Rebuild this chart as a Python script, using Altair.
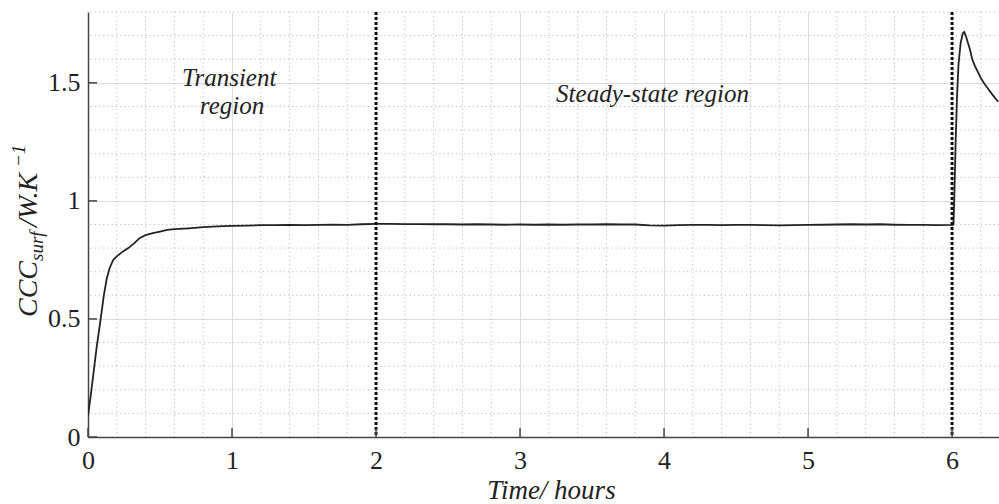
import altair as alt
import pandas as pd

# ---- data ----
time_h = [0.0, 0.02, 0.04, 0.06, 0.088, 0.11, 0.13, 0.15, 0.175, 0.2, 0.24, 0.28, 0.32, 0.36,
          0.4, 0.45, 0.5, 0.55, 0.6, 0.7, 0.8, 0.9,
          1.0, 1.1, 1.2, 1.3, 1.4, 1.5, 1.6, 1.7, 1.8, 1.9,
          2.0, 2.1, 2.2, 2.3, 2.4, 2.5, 2.6, 2.7, 2.8, 2.9,
          3.0, 3.1, 3.2, 3.3, 3.4, 3.5, 3.6, 3.7, 3.8, 3.9,
          4.0, 4.1, 4.2, 4.3, 4.4, 4.5, 4.6, 4.7, 4.8, 4.9,
          5.0, 5.1, 5.2, 5.3, 5.4, 5.5, 5.6, 5.7, 5.8, 5.9,
          6.0, 6.01, 6.015, 6.025, 6.035, 6.045, 6.06, 6.075, 6.085, 6.095, 6.11, 6.125,
          6.14, 6.16, 6.18, 6.2, 6.22, 6.25, 6.28, 6.32]
ccc = [0.09, 0.18, 0.28, 0.38, 0.50, 0.60, 0.67, 0.715, 0.75, 0.765, 0.785, 0.80, 0.82, 0.843,
       0.855, 0.863, 0.870, 0.877, 0.880, 0.884, 0.889, 0.892,
       0.894, 0.895, 0.897, 0.897, 0.898, 0.897, 0.898, 0.899, 0.898, 0.901,
       0.903, 0.903, 0.902, 0.902, 0.901, 0.901, 0.900, 0.901, 0.900, 0.899,
       0.900, 0.899, 0.900, 0.899, 0.900, 0.900, 0.901, 0.900, 0.900, 0.896,
       0.895, 0.897, 0.898, 0.898, 0.897, 0.898, 0.898, 0.897, 0.896, 0.897,
       0.898, 0.899, 0.900, 0.901, 0.900, 0.901, 0.899, 0.898, 0.898, 0.897,
       0.898, 0.900, 1.00, 1.25, 1.45, 1.58, 1.67, 1.71, 1.715, 1.70, 1.67, 1.64,
       1.60, 1.57, 1.545, 1.52, 1.50, 1.475, 1.45, 1.42]

x_major = [0, 1, 2, 3, 4, 5, 6]
y_major = [0, 0.5, 1, 1.5]
x_minor = [0.2, 0.4, 0.6, 0.8, 1.2, 1.4, 1.6, 1.8, 2.2, 2.4, 2.6, 2.8, 3.2, 3.4, 3.6, 3.8,
           4.2, 4.4, 4.6, 4.8, 5.2, 5.4, 5.6, 5.8, 6.2]
y_minor = [0.1, 0.2, 0.3, 0.4, 0.6, 0.7, 0.8, 0.9, 1.1, 1.2, 1.3, 1.4, 1.6, 1.7, 1.8]
region_bounds = [2, 6]

ann_text = ["Transient", "region", "Steady-state region"]
ann_x = [0.98, 1.0, 3.92]
ann_y = [1.487, 1.368, 1.419]

X_DOMAIN = [0, 6.326]
Y_DOMAIN = [0, 1.8]
W, H = 911, 425
FONT = "Liberation Serif"
INK = "#222222"

curve = pd.DataFrame({"t": time_h, "c": ccc})
xs = alt.Scale(domain=X_DOMAIN, nice=False, zero=False)
ys = alt.Scale(domain=Y_DOMAIN, nice=False, zero=False)

AX = alt.Axis(
    values=x_major, format="~g", grid=True, gridColor="#dcdcdc", gridWidth=1,
    domainColor="#444444", domainWidth=1.5, ticks=False, labelFlush=False,
    labelFont=FONT, labelFontSize=26, labelColor=INK, labelPadding=10,
    title="Time/ hours", titleFont=FONT, titleFontStyle="italic",
    titleFontWeight="normal", titleFontSize=27, titleColor=INK,
    titleX=463, titleY=61, titleBaseline="alphabetic")
AY = alt.Axis(
    values=y_major, format="~g", grid=True, gridColor="#dcdcdc", gridWidth=1,
    domainColor="#444444", domainWidth=1.5, ticks=False, labelFlush=False,
    labelFont=FONT, labelFontSize=26, labelColor=INK, labelPadding=8,
    title="")

def X(f):
    return alt.X(f, scale=xs, axis=AX)

def Y(f):
    return alt.Y(f, scale=ys, axis=AY)

minor_x = alt.Chart(pd.DataFrame({"t": x_minor})).mark_rule(
    color="#bdbdbd", strokeWidth=1, strokeDash=[1.2, 3]
).encode(x=X("t:Q"))

minor_y = alt.Chart(pd.DataFrame({"c": y_minor})).mark_rule(
    color="#bdbdbd", strokeWidth=1, strokeDash=[1.2, 3]
).encode(y=Y("c:Q"))

line = alt.Chart(curve).mark_line(color=INK, strokeWidth=1.8, clip=True).encode(
    x=X("t:Q"), y=Y("c:Q"), order="t:Q")

xticks = alt.Chart(pd.DataFrame({"t": x_major})).mark_rule(color="#444444", strokeWidth=1.5).encode(
    x=X("t:Q"), y=alt.value(H), y2=alt.value(H - 9))
yticks = alt.Chart(pd.DataFrame({"c": y_major})).mark_rule(color="#444444", strokeWidth=1.5).encode(
    y=Y("c:Q"), x=alt.value(0), x2=alt.value(9))

bounds = alt.Chart(pd.DataFrame({"t": region_bounds})).mark_rule(
    color="#111111", strokeWidth=3, strokeDash=[3, 2]
).encode(x=X("t:Q"))

ann = alt.Chart(pd.DataFrame({"txt": ann_text, "t": ann_x, "c": ann_y})).mark_text(
    font=FONT, fontStyle="italic", fontSize=25, color=INK, align="center", baseline="alphabetic"
).encode(x=X("t:Q"), y=Y("c:Q"), text="txt:N")

def ytitle_piece(txt, px, py, size):
    return alt.Chart(pd.DataFrame({"txt": [txt]})).mark_text(
        font=FONT, fontStyle="italic", fontSize=size, color=INK, angle=270,
        align="left", baseline="alphabetic"
    ).encode(x=alt.value(px), y=alt.value(py), text="txt:N")

yt1 = ytitle_piece("CCC", -51, 305, 28)
yt2 = ytitle_piece("surf", -45, 249, 19)
yt3 = ytitle_piece("/W.K", -51, 215, 28)
yt4 = ytitle_piece("\u22121", -63, 155, 19)

chart = alt.layer(minor_x, minor_y, line, bounds, xticks, yticks, ann, yt1, yt2, yt3, yt4).properties(
    width=W, height=H,
    autosize=alt.AutoSizeParams(type="none"),
    padding={"left": 88, "top": 12, "right": 0, "bottom": 67},
    background="white",
).configure_view(stroke=None)

chart.save("out.html", embed_options={"renderer": "svg", "actions": False})
